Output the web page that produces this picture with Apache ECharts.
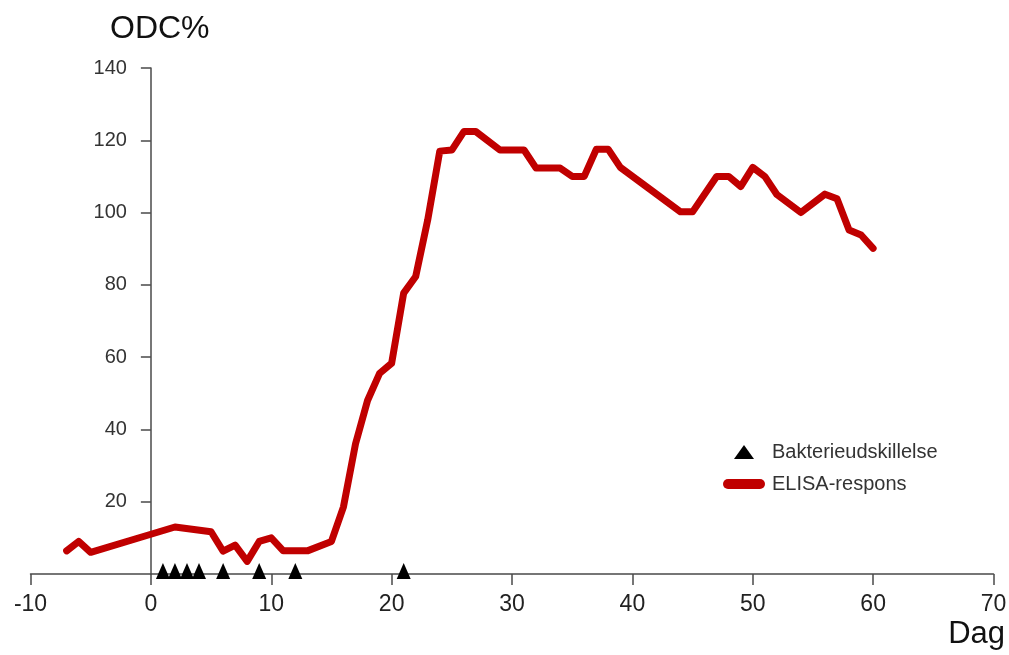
<!DOCTYPE html>
<html>
<head>
<meta charset="utf-8">
<style>
  html, body { margin: 0; padding: 0; background: #ffffff; }
  #chart { width: 1009px; height: 655px; }
</style>
<script src="https://cdn.jsdelivr.net/npm/echarts@6/dist/echarts.min.js"></script>
</head>
<body>
<div id="chart"></div>
<script>
// ELISA response over time (days), in ODC%
const elisaDays = [-7, -6, -5, 0, 2, 5, 6, 7, 8, 9, 10, 11, 13, 15, 16, 17, 18, 19, 20, 21, 22, 23, 24, 25, 26, 27, 29, 31, 32, 34, 35, 36, 37, 38, 39, 44, 45, 47, 48, 49, 50, 51, 52, 54, 56, 57, 58, 59, 60];
const elisaValues = [6.4, 9, 6, 11, 13, 11.7, 6.3, 8, 3.5, 9, 10, 6.4, 6.4, 9, 18.6, 36, 48, 55.5, 58.3, 77.7, 82.3, 98, 117, 117.3, 122.4, 122.4, 117.3, 117.3, 112.3, 112.3, 110, 110, 117.5, 117.5, 112.5, 100.2, 100.2, 110, 110, 107.2, 112.5, 110, 105, 100, 105.1, 103.8, 95.2, 93.8, 90.1];

// Days with bacterial shedding
const sheddingDays = [1, 2, 3, 4, 6, 9, 12, 21];

const xTicks = { min: -10, max: 70, step: 10 };
const yTicks = { min: 0, max: 140, step: 20 };

const lineSeriesName = 'ELISA-respons';
const markerSeriesName = 'Bakterieudskillelse';

const FONT = '"Liberation Sans", Arial, Helvetica, sans-serif';
const RED = '#c00000';
const AXIS = '#4a4a4a';

// plot area in pixels
const GRID = { left: 30.5, right: 15.5, top: 68, bottom: 81 };
const plotWidth = 1009 - GRID.left - GRID.right;
// the vertical axis sits at day 0, so shift it right from the grid's left edge
const yAxisShift = (0 - xTicks.min) / (xTicks.max - xTicks.min) * plotWidth;

const chart = echarts.init(document.getElementById('chart'), null, { renderer: 'canvas' });

chart.setOption({
  animation: false,
  backgroundColor: '#ffffff',
  title: [
    { text: 'ODC%', left: 110, top: 13, padding: 0,
      textStyle: { fontFamily: FONT, fontSize: 32, fontWeight: 'normal', color: '#111' } },
    { text: 'Dag', right: 4, top: 619, padding: 0,
      textStyle: { fontFamily: FONT, fontSize: 31, fontWeight: 'normal', color: '#111' } }
  ],
  grid: { left: GRID.left, right: GRID.right, top: GRID.top, bottom: GRID.bottom, containLabel: false, outerBoundsMode: 'none' },
  legend: {
    orient: 'vertical',
    left: 718,
    top: 437,
    itemWidth: 42,
    itemHeight: 14,
    itemGap: 12,
    selectedMode: false,
    textStyle: { fontFamily: FONT, fontSize: 20, color: '#333', padding: [0, 0, 0, 2] },
    data: [
      { name: markerSeriesName, icon: 'path://M10 0 L20 14 L0 14 Z', itemStyle: { color: '#000' } },
      { name: lineSeriesName, icon: 'path://M5 0 L37 0 A5 5 0 0 1 37 10 L5 10 A5 5 0 0 1 5 0 Z', itemStyle: { color: RED } }
    ]
  },
  xAxis: {
    type: 'value',
    min: xTicks.min,
    max: xTicks.max,
    interval: xTicks.step,
    splitLine: { show: false },
    axisLine: { show: true, onZero: true, lineStyle: { color: AXIS, width: 1.5 } },
    axisTick: { show: true, inside: false, length: 11, lineStyle: { color: AXIS, width: 1.5 } },
    axisLabel: { fontFamily: FONT, fontSize: 23, color: '#222', margin: 19 }
  },
  yAxis: {
    type: 'value',
    min: yTicks.min,
    max: yTicks.max,
    interval: yTicks.step,
    offset: -yAxisShift,
    splitLine: { show: false },
    axisLine: { show: true, onZero: false, lineStyle: { color: AXIS, width: 1.5 } },
    axisTick: { show: true, inside: false, length: 10, lineStyle: { color: AXIS, width: 1.5 } },
    axisLabel: { fontFamily: FONT, fontSize: 20, color: '#333', margin: 24, showMinLabel: false }
  },
  series: [
    {
      name: lineSeriesName,
      type: 'line',
      data: elisaDays.map((d, i) => [d, elisaValues[i]]),
      showSymbol: false,
      symbol: 'none',
      smooth: false,
      lineStyle: { color: RED, width: 7, join: 'round', cap: 'round' },
      itemStyle: { color: RED },
      z: 3
    },
    {
      name: markerSeriesName,
      type: 'scatter',
      data: sheddingDays.map(d => [d, 0]),
      symbol: 'triangle',
      symbolSize: [14, 16],
      symbolOffset: [0, -3],
      itemStyle: { color: '#000', opacity: 1 },
      z: 4
    }
  ]
});
</script>
</body>
</html>
